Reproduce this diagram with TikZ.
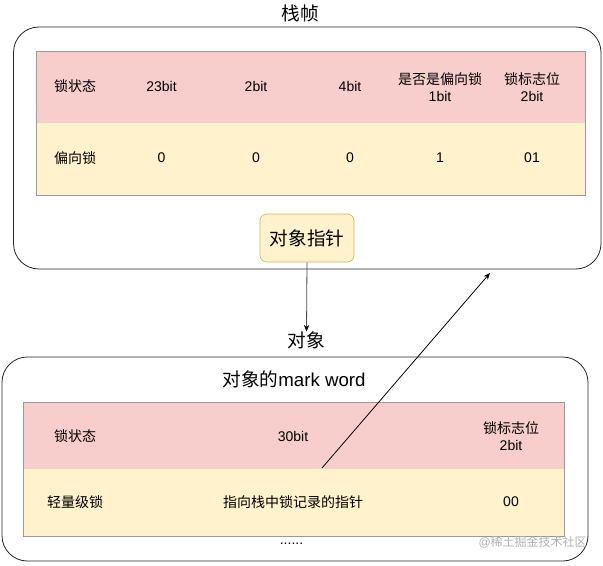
\documentclass[tikz,border=0pt]{standalone}
\usepackage{fontspec}
\setmainfont{Liberation Sans}
\newfontfamily\cjk{Noto Sans CJK SC}
\usetikzlibrary{arrows.meta}
\definecolor{redrow}{HTML}{F8CECC}
\definecolor{yelrow}{HTML}{FFF2CC}
\definecolor{yelline}{HTML}{D6B656}
\definecolor{tabline}{HTML}{999999}
\tikzset{
  frame/.style={draw=black!85, line width=0.6pt, rounded corners=19pt, inner sep=0pt, outer sep=0pt},
  redcell/.style={fill=redrow, draw=none, inner sep=0pt, outer sep=0pt},
  yelcell/.style={fill=yelrow, draw=none, inner sep=0pt, outer sep=0pt},
  tabtxt/.style={font=\fontsize{10.5}{13}\selectfont, align=center, inner sep=0pt},
  bigtxt/.style={font=\fontsize{14}{17}\selectfont, align=center, inner sep=0pt},
  ptrbox/.style={fill=yelrow, draw=yelline, line width=0.5pt, rounded corners=5pt, inner sep=0pt,
    minimum width=70.5pt, minimum height=36pt, font=\fontsize{14}{17}\selectfont},
  conn/.style={line width=0.6pt, -{Stealth[length=5pt,width=4pt]}},
}
\begin{document}
\begin{tikzpicture}[x=0.75pt,y=-0.75pt]
\useasboundingbox (0,0) rectangle (603,565);
\fill[white] (0,0) rectangle (603,565);

% ---- top frame ----
\node[bigtxt] (t1) at (300,13) {\cjk 栈帧};
\node[frame, minimum width=440.6pt, minimum height=181.5pt] (stack) at (307.25,148) {};
\node[redcell, minimum width=411.4pt, minimum height=54pt] (r1) at (310.75,87) {};
\node[yelcell, minimum width=411.4pt, minimum height=54pt] (y1) at (310.75,159) {};
\draw[tabline, line width=0.5pt] (r1.north west) rectangle (y1.south east);

\node[tabtxt] (a1) at (75,86) {\cjk 锁状态};
\node[tabtxt] (a2) at (161.5,86) {23bit};
\node[tabtxt] (a3) at (256,86) {2bit};
\node[tabtxt] (a4) at (350,86) {4bit};
\node[tabtxt] (a5) at (440,87) {{\cjk 是否是偏向锁}\\1bit};
\node[tabtxt] (a6) at (532,87) {{\cjk 锁标志位}\\2bit};

\node[tabtxt] (b1) at (75,158) {\cjk 偏向锁};
\node[tabtxt] (b2) at (161.5,158) {0};
\node[tabtxt] (b3) at (256,158) {0};
\node[tabtxt] (b4) at (350,158) {0};
\node[tabtxt] (b5) at (440,158) {1};
\node[tabtxt] (b6) at (532,158) {01};

\node[ptrbox] (ptr) at (307,238) {\cjk 对象指针};

% ---- bottom frame ----
\node[bigtxt] (t2) at (306.5,340.5) {\cjk 对象};
\node[frame, minimum width=439.5pt, minimum height=153pt] (obj) at (295,459) {};
\node[bigtxt] (t3) at (294,379) {{\cjk 对象的}mark word};
\node[redcell, minimum width=405.75pt, minimum height=50.25pt] (r2) at (293.5,435.5) {};
\node[yelcell, minimum width=405.75pt, minimum height=50.25pt] (y2) at (293.5,502.5) {};
\draw[tabline, line width=0.5pt] (r2.north west) rectangle (y2.south east);

\node[tabtxt] (c1) at (75,436) {\cjk 锁状态};
\node[tabtxt] (c2) at (293,436) {30bit};
\node[tabtxt] (c3) at (511,436) {{\cjk 锁标志位}\\2bit};
\node[tabtxt] (d1) at (75,502) {\cjk 轻量级锁};
\node[tabtxt] (d2) at (293,502) {\cjk 指向栈中锁记录的指针};
\node[tabtxt] (d3) at (511,502) {00};

\node[tabtxt] (dots) at (291.5,543.5) {......};
\node[font=\fontsize{9}{11}\selectfont, text=black!30, anchor=east, inner sep=0pt] (wm) at (587,542) {@{\cjk 稀土掘金技术社区}};

% ---- connectors ----
\coordinate (pstart) at (322,468);
\coordinate (pend) at (490,273);
\draw[conn, draw=black!70, -{Stealth[length=5pt,width=4pt,color=black]}] (ptr.south) -- (t2.north);
\draw[conn] (pstart) -- (pend);
\end{tikzpicture}
\end{document}
